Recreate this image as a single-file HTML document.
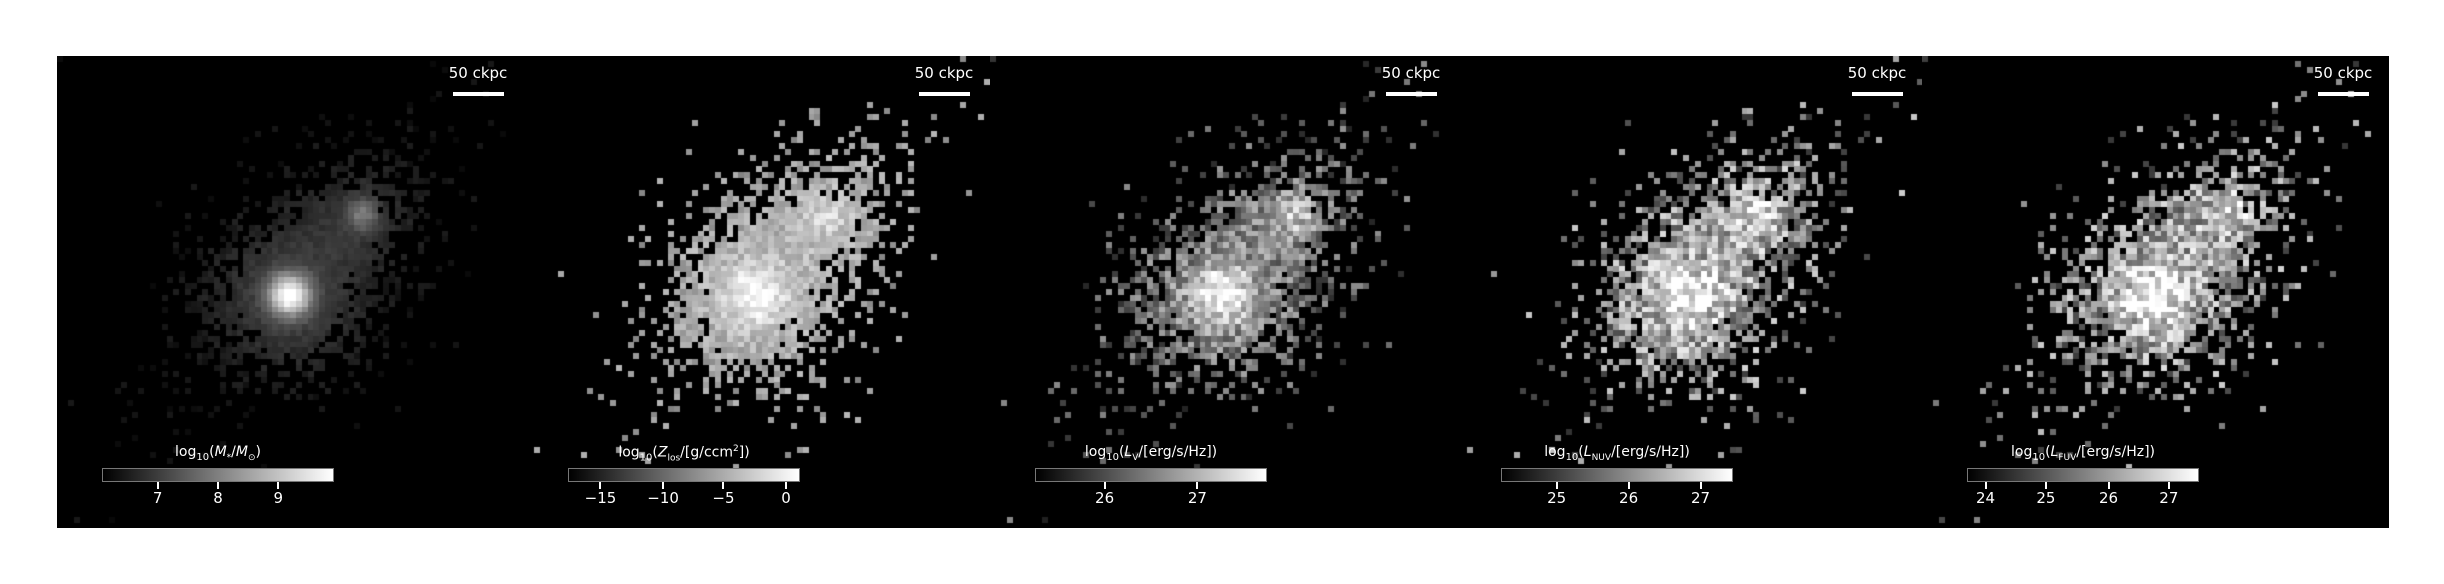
<!DOCTYPE html>
<html><head><meta charset="utf-8">
<style>
html,body{margin:0;padding:0;background:#fff;}
#wrap{position:relative;width:2444px;height:584px;overflow:hidden;background:#fff;font-family:"DejaVu Sans","Liberation Sans",sans-serif;}
.panel{position:absolute;top:56px;width:467px;height:472px;background:#000;}
.panel canvas{position:absolute;left:0;top:0;}
.sb-text{position:absolute;top:8px;left:385px;width:72px;text-align:center;color:#fff;font-size:15px;}
.sb-bar{position:absolute;top:36px;left:396px;width:51px;height:4px;background:#fff;}
.cb{position:absolute;left:45px;top:412px;width:232px;height:14px;border:1px solid #777;box-sizing:border-box;background:linear-gradient(to right,#000,#fff);}
.cb-label{position:absolute;left:25px;top:388px;width:272px;text-align:center;color:#fff;font-size:14px;}
.tick{position:absolute;top:426px;width:2px;height:7px;background:#fff;}
.tlab{position:absolute;top:433px;width:40px;text-align:center;color:#fff;font-size:15px;}
</style></head>
<body>
<div id="wrap"></div>
<script>
const panelLeft=[57,523,990,1456,1922];
const labels=[
 'log<sub style="font-size:10px">10</sub>(<i>M</i><sub style="font-size:9px">*</sub>/<i>M</i><sub style="font-size:9px">⊙</sub>)',
 'log<sub style="font-size:10px">10</sub>(<i>Z</i><sub style="font-size:9px">los</sub>/[g/ccm<sup style="font-size:9px">2</sup>])',
 'log<sub style="font-size:10px">10</sub>(<i>L</i><sub style="font-size:9px">V</sub>/[erg/s/Hz])',
 'log<sub style="font-size:10px">10</sub>(<i>L</i><sub style="font-size:9px">NUV</sub>/[erg/s/Hz])',
 'log<sub style="font-size:10px">10</sub>(<i>L</i><sub style="font-size:9px">FUV</sub>/[erg/s/Hz])'];
const tickLabels=[['7','8','9'],['−15','−10','−5','0'],['26','27'],['25','26','27'],['24','25','26','27']];
const tickFrac=[[0.24,0.50,0.76],[0.14,0.41,0.67,0.94],[0.30,0.70],[0.24,0.55,0.86],[0.08,0.34,0.61,0.87]];
const panelNames=['stellar-mass-map','metallicity-map','v-band-map','nuv-map','fuv-map'];
// blobs: [cx, cy, sigma, amplitude]
const blobs=[[233,240,20,1.0],[306,159,15,0.6]];
// per panel: [scatter min, scatter range, core gain]
const style=[[0.04,0.1,1.0],[0.5,0.22,0.4],[0.12,0.45,0.7],[0.2,0.6,0.55],[0.2,0.6,0.55]];
function hash(i,j,k){let h=(i*73856093)^(j*19349663)^(k*83492791);h=(h^(h>>>13))*1274126177;h=h^(h>>>16);return ((h>>>0)%10000)/10000;}
const wrap=document.getElementById('wrap');
panelLeft.forEach((L,p)=>{
 const pn=document.createElement('div');pn.className='panel';pn.style.left=L+'px';
 
 
 const cv=document.createElement('canvas');cv.width=467;cv.height=472;
 
 
 pn.appendChild(cv);
 const ctx=cv.getContext('2d');
 const N=80,cs=467/N,st=style[p];
 for(let i=0;i<N;i++)for(let j=0;j<N;j++){
  const x=(i+0.5)*cs,y=(j+0.5)*cs;
  let d=0;blobs.forEach(b=>{const dx=x-b[0],dy=y-b[1];d+=b[3]*Math.exp(-(dx*dx+dy*dy)/(2*b[2]*b[2]));});
  let d2=0;blobs.forEach(b=>{const dx=x-b[0],dy=y-b[1];d2+=b[3]*Math.exp(-(dx*dx+dy*dy)/(2*(b[2]*2.6)**2));});
  const ux=(x-255)*0.70-(y-205)*0.71, vx=(x-255)*0.71+(y-205)*0.70;
  const h=Math.exp(-(ux*ux)/(2*120*120)-(vx*vx)/(2*45*45));
  const prob=Math.min(1,1.15*d2+0.3*h);
  if(hash(i,j,p%2)>prob)continue;
  let v=st[0]+st[1]*hash(i,j,p+7)+st[2]*(0.6*d+0.35*d2);
  if(p===0)v=0.03+0.07*hash(i,j,9)+0.2*d2+0.8*d*d;
  v=Math.max(0,Math.min(1,v));const g=Math.round(v*255);
  ctx.fillStyle=`rgb(${g},${g},${g})`;ctx.fillRect(Math.floor(i*cs),Math.floor(j*cs),Math.ceil(cs),Math.ceil(cs));
 }
 const st1=document.createElement('div');st1.className='sb-text';st1.textContent='50 ckpc';
 
 
 pn.appendChild(st1);
 const sb=document.createElement('div');sb.className='sb-bar';
 
 
 pn.appendChild(sb);
 const cl=document.createElement('div');cl.className='cb-label';cl.innerHTML=labels[p];
 
 
 pn.appendChild(cl);
 const cb=document.createElement('div');cb.className='cb';
 
 
 pn.appendChild(cb);
 tickFrac[p].forEach((f,k)=>{
  const t=document.createElement('div');t.className='tick';t.style.left=(45+f*232-1)+'px';
  
  
  pn.appendChild(t);
  const tl=document.createElement('div');tl.className='tlab';tl.style.left=(45+f*232-20)+'px';tl.textContent=tickLabels[p][k];
  
  
  pn.appendChild(tl);
 });
 wrap.appendChild(pn);
});
</script>
</body></html>
